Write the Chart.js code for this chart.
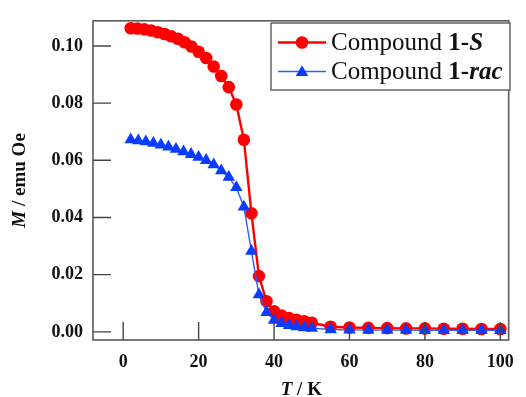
<!DOCTYPE html>
<html><head><meta charset="utf-8">
<script src="https://cdn.jsdelivr.net/npm/chart.js@4.4.1/dist/chart.umd.min.js"></script>
<style>html,body{margin:0;padding:0;background:#fff}canvas{display:block}</style>
</head><body><canvas id="c" width="526" height="397"></canvas>
<script>
const tempS = [2,3.8,5.6,7.4,9.2,11,12.7,14.5,16.3,18.1,20,22,24,26,28,30,32,34,36,38,40,42,44,46,48,50,55,60,65,70,75,80,85,90,95,100];
const momentS = [0.1062,0.1061,0.1058,0.1054,0.1048,0.1042,0.1034,0.1025,0.1013,0.0998,0.0980,0.0958,0.0928,0.0895,0.0856,0.0795,0.0672,0.0415,0.0195,0.0107,0.0072,0.0057,0.0048,0.0042,0.0037,0.0032,0.0018,0.0015,0.0014,0.0013,0.0012,0.0012,0.0011,0.0011,0.0010,0.0010];
const tempRac = [2,4,6,8,10,12,14,16,18,20,22,24,26,28,30,32,34,36,38,40,42,44,46,48,50,55,60,65,70,75,80,85,90,95,100];
const momentRac = [0.0672,0.0669,0.0665,0.0660,0.0654,0.0647,0.0639,0.0630,0.0621,0.0611,0.0600,0.0585,0.0564,0.0541,0.0505,0.0437,0.0282,0.0130,0.0068,0.0041,0.0030,0.0023,0.0018,0.0015,0.0013,0.0008,0.0007,0.0006,0.0006,0.0006,0.0005,0.0005,0.0005,0.0005,0.0005];
const xTickValues = [0,20,40,60,80,100];
const yTickValues = [0,0.02,0.04,0.06,0.08,0.10];
const legendS = [{t:'Compound ',f:''},{t:'1-',f:'bold'},{t:'S',f:'italic bold'}];
const legendRac = [{t:'Compound ',f:''},{t:'1-',f:'bold'},{t:'rac',f:'italic bold'}];
const xTitleRuns = [{t:'T',f:'italic bold'},{t:' / K',f:'bold'}];
const yTitleRuns = [{t:'M',f:'italic bold'},{t:' / emu Oe',f:'bold'}];

const FAM = '"Liberation Serif", "Times New Roman", serif';
const FRAME = '#5a5a5a';

function runsWidth(ctx, runs, size){
  let w = 0;
  for (const r of runs){ ctx.font = (r.f ? r.f + ' ' : '') + size + 'px ' + FAM; w += ctx.measureText(r.t).width; }
  return w;
}
function drawRuns(ctx, runs, x, y, size){
  ctx.textAlign = 'left';
  ctx.textBaseline = 'alphabetic';
  for (const r of runs){
    ctx.font = (r.f ? r.f + ' ' : '') + size + 'px ' + FAM;
    ctx.fillText(r.t, x, y);
    x += ctx.measureText(r.t).width;
  }
}
function marker(ctx, ds, x, y){
  ctx.fillStyle = ds.pointBackgroundColor;
  ctx.beginPath();
  const r = ds.pointRadius;
  if (ds.pointStyle === 'triangle'){
    let a = 0;
    ctx.moveTo(x + Math.sin(a)*r, y - Math.cos(a)*r); a += 2*Math.PI/3;
    ctx.lineTo(x + Math.sin(a)*r, y - Math.cos(a)*r); a += 2*Math.PI/3;
    ctx.lineTo(x + Math.sin(a)*r, y - Math.cos(a)*r);
    ctx.closePath();
  } else {
    ctx.arc(x, y, r, 0, Math.PI*2);
  }
  ctx.fill();
}

const decor = {
  id: 'decor',
  afterDatasetsDraw(chart){
    const ctx = chart.ctx, a = chart.chartArea;
    const xs = chart.scales.x, ys = chart.scales.y;
    ctx.save();
    // frame
    ctx.strokeStyle = FRAME; ctx.lineWidth = 1.6;
    ctx.strokeRect(a.left, a.top, a.right - a.left, a.bottom - a.top);
    // inward ticks
    ctx.lineWidth = 1.4; ctx.strokeStyle = '#444';
    ctx.beginPath();
    for (const v of xTickValues){ const px = xs.getPixelForValue(v); ctx.moveTo(px, a.bottom); ctx.lineTo(px, a.bottom - 18); }
    for (const v of yTickValues){ const py = ys.getPixelForValue(v); ctx.moveTo(a.left, py); ctx.lineTo(a.left + 18, py); }
    ctx.stroke();
    // axis titles
    ctx.fillStyle = '#111';
    const xw = runsWidth(ctx, xTitleRuns, 19);
    drawRuns(ctx, xTitleRuns, (a.left + a.right)/2 - xw/2 + 0.5, 395, 19);
    ctx.save();
    ctx.translate(25, (a.top + a.bottom)/2);
    ctx.rotate(-Math.PI/2);
    const yw = runsWidth(ctx, yTitleRuns, 19);
    drawRuns(ctx, yTitleRuns, -yw/2, 0, 19);
    ctx.restore();
    // legend
    const bx = 271, by = 23, bw = 239, bh = 67;
    ctx.fillStyle = '#fff';
    ctx.fillRect(bx, by, bw, bh);
    ctx.strokeStyle = FRAME; ctx.lineWidth = 1.4;
    ctx.strokeRect(bx, by, bw, bh);
    const rows = [{ds: chart.data.datasets[0], runs: legendS, y: 42.5}, {ds: chart.data.datasets[1], runs: legendRac, y: 71.5}];
    for (const row of rows){
      ctx.strokeStyle = row.ds.borderColor; ctx.lineWidth = row.ds.borderWidth;
      ctx.beginPath(); ctx.moveTo(278, row.y); ctx.lineTo(326, row.y); ctx.stroke();
      marker(ctx, row.ds, 302, row.y + (row.ds.pointStyle === 'triangle' ? 1 : 0));
      ctx.fillStyle = '#111';
      drawRuns(ctx, row.runs, 331, row.y + 7.5, 25);
    }
    ctx.restore();
  }
};

new Chart(document.getElementById('c'), {
  type: 'line',
  data: {
    datasets: [
      { label: 'Compound 1-S', data: tempS.map((t,i)=>({x:t, y:momentS[i]})),
        borderColor: '#ff0000', backgroundColor: '#ff0000', borderWidth: 2.4,
        pointStyle: 'circle', pointRadius: 6.3, pointBackgroundColor: '#ff0000', pointBorderWidth: 0, pointBorderColor: '#ff0000',
        order: 2, tension: 0 },
      { label: 'Compound 1-rac', data: tempRac.map((t,i)=>({x:t, y:momentRac[i]})),
        borderColor: '#2d5cff', backgroundColor: '#0a3cff', borderWidth: 1.4,
        pointStyle: 'triangle', pointRadius: 7.2, pointBackgroundColor: '#0a3cff', pointBorderWidth: 0, pointBorderColor: '#0a3cff',
        order: 1, tension: 0 }
    ]
  },
  options: {
    responsive: false, animation: false,
    layout: { padding: { top: 15, right: 6, left: 0, bottom: 0 } },
    plugins: { legend: { display: false }, tooltip: { enabled: false } },
    scales: {
      x: { type: 'linear', min: -8, max: 102.2,
        afterBuildTicks: s => { s.ticks = xTickValues.map(v => ({value: v})); },
        afterFit: s => { s.height = 57; },
        grid: { display: false, drawTicks: false }, border: { display: false },
        ticks: { padding: 12, color: '#111', font: { family: FAM, size: 18, weight: 'bold' }, callback: v => String(v) } },
      y: { type: 'linear', min: -0.00285, max: 0.1088,
        afterBuildTicks: s => { s.ticks = yTickValues.map(v => ({value: v})); },
        afterFit: s => { s.width = 93; },
        grid: { display: false, drawTicks: false }, border: { display: false },
        ticks: { padding: 10, color: '#111', font: { family: FAM, size: 18, weight: 'bold' }, callback: v => Number(v).toFixed(2) } }
    }
  },
  plugins: [decor]
});
</script>
</body></html>
